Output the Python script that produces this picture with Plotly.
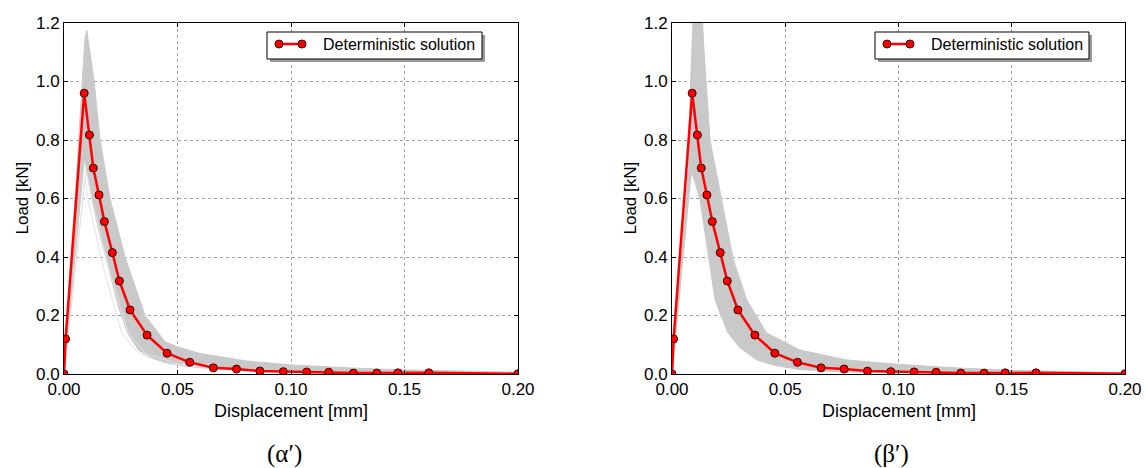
import plotly.graph_objects as go

W, H = 1145, 468

# ---------------- data ----------------
disp_det = [0.0, 0.0007, 0.0089, 0.0112, 0.0129, 0.0154, 0.0178, 0.0213, 0.0244, 0.0291,
            0.0366, 0.0454, 0.0554, 0.0658, 0.0760, 0.0863, 0.0966, 0.1069, 0.1166,
            0.1275, 0.1378, 0.1471, 0.1607, 0.2000]
load_det = [0.0, 0.12, 0.96, 0.817, 0.704, 0.612, 0.521, 0.415, 0.318, 0.219,
            0.133, 0.071, 0.040, 0.021, 0.017, 0.010, 0.008, 0.007, 0.006,
            0.003, 0.003, 0.004, 0.004, 0.001]

# envelope of the stochastic sample curves, case (α')
band_a_x = [0.0, 0.0063, 0.0078, 0.0092, 0.0100, 0.0110, 0.0133, 0.0159, 0.0203, 0.0269,
            0.0357, 0.0445, 0.050, 0.060, 0.080, 0.100, 0.125, 0.150, 0.175, 0.200,
            0.200, 0.175, 0.150, 0.125, 0.100, 0.080, 0.065, 0.050, 0.040, 0.033,
            0.028, 0.0240, 0.0195, 0.0150, 0.0122, 0.0100, 0.0090, 0.0]
band_a_y = [0.0, 0.80, 1.00, 1.14, 1.176, 1.12, 1.00, 0.80, 0.60, 0.40,
            0.20, 0.11, 0.093, 0.070, 0.045, 0.031, 0.021, 0.014, 0.009, 0.006,
            0.000, 0.002, 0.004, 0.006, 0.008, 0.012, 0.018, 0.030, 0.050, 0.080,
            0.140, 0.230, 0.367, 0.500, 0.600, 0.700, 0.740, 0.0]

# a few outlying (lighter) sample curves, case (α')
light1_x = [0.0, 0.0097, 0.0122, 0.0195, 0.0283, 0.036, 0.050, 0.070]
light1_y = [0.0, 0.700, 0.600, 0.367, 0.140, 0.070, 0.035, 0.020]
light2_x = [0.0, 0.0093, 0.0105, 0.0173, 0.0254, 0.033, 0.045, 0.065]
light2_y = [0.0, 0.675, 0.600, 0.367, 0.140, 0.070, 0.035, 0.020]

# envelope of the stochastic sample curves, case (β')
band_b_x = [0.0, 0.0040, 0.0072, 0.0080, 0.0087, 0.0092, 0.0135, 0.0141, 0.0168, 0.0219,
            0.0271, 0.0330, 0.0418, 0.0565, 0.077, 0.100, 0.125, 0.151, 0.175, 0.200,
            0.200, 0.150, 0.100, 0.075, 0.0565, 0.045, 0.0374, 0.0300, 0.0247, 0.0190,
            0.0168, 0.0124, 0.0100, 0.0085, 0.0]
band_b_y = [0.0, 0.40, 0.70, 0.95, 1.108, 1.20, 1.20, 1.108, 0.80, 0.595,
            0.39, 0.253, 0.14, 0.082, 0.048, 0.033, 0.021, 0.012, 0.008, 0.005,
            0.000, 0.002, 0.004, 0.007, 0.015, 0.030, 0.048, 0.090, 0.140, 0.253,
            0.367, 0.595, 0.66, 0.69, 0.0]

x_ticks = [0.0, 0.05, 0.10, 0.15, 0.20]
y_ticks = [0.0, 0.2, 0.4, 0.6, 0.8, 1.0, 1.2]
legend_label = "Deterministic solution"
x_title = "Displacement [mm]"
y_title = "Load [kN]"
captions = ["(α′)", "(β′)"]

# ---------------- layout helpers ----------------
def px(x):
    return x / W

def py(y):
    return 1 - y / H

axes_px = [(64, 518), (672, 1125)]
top_px, bot_px = 23, 374

GRAY = "#c9c9c9"
LIGHT = "#e3e3e3"
RED = "#ff0000"
FONT = "Liberation Sans"

fig = go.Figure()

def add_panel(k, bx, by, lights):
    xa = "x" if k == 0 else "x2"
    ya = "y" if k == 0 else "y2"
    fig.add_trace(go.Scatter(x=bx, y=by, mode="lines", fill="toself", fillcolor=GRAY,
                             line=dict(color=GRAY, width=1), xaxis=xa, yaxis=ya,
                             hoverinfo="skip", showlegend=False))
    for lx, ly in lights:
        fig.add_trace(go.Scatter(x=lx, y=ly, mode="lines", line=dict(color=LIGHT, width=1),
                                 xaxis=xa, yaxis=ya, hoverinfo="skip", showlegend=False))
    fig.add_trace(go.Scatter(x=disp_det, y=load_det, mode="lines+markers",
                             line=dict(color=RED, width=2.5),
                             marker=dict(color=RED, size=8, line=dict(color="#3a0000", width=1)),
                             xaxis=xa, yaxis=ya, showlegend=False, name=legend_label))

add_panel(0, band_a_x, band_a_y, [(light1_x, light1_y), (light2_x, light2_y)])
add_panel(1, band_b_x, band_b_y, [])

axis_common = dict(showline=True, linecolor="black", linewidth=1, mirror="ticks",
                   ticks="inside", ticklen=4, tickcolor="black", automargin=False,
                   showgrid=True, gridcolor="#a0a0a0", griddash="dot", gridwidth=1,
                   zeroline=False, tickfont=dict(family=FONT, size=17, color="black"))

layout = dict(width=W, height=H, margin=dict(l=0, r=0, t=0, b=0),
              paper_bgcolor="white", plot_bgcolor="white", showlegend=False)

for k, (x0, x1) in enumerate(axes_px):
    sfx = "" if k == 0 else "2"
    layout["xaxis" + sfx] = dict(axis_common, domain=[px(x0), px(x1)], range=[0, 0.2],
                                 tickvals=x_ticks, tickformat=".2f",
                                 anchor="y" + sfx)
    layout["yaxis" + sfx] = dict(axis_common, domain=[py(bot_px), py(top_px)], range=[0, 1.2],
                                 tickvals=y_ticks, tickformat=".1f",
                                 anchor="x" + sfx)

fig.update_layout(**layout)

shapes = []
annotations = []
for k, (x0, x1) in enumerate(axes_px):
    cx = (x0 + x1) / 2
    # axis titles
    annotations.append(dict(x=px(x0 - 42), y=py((top_px + bot_px) / 2), xref="paper", yref="paper",
                            text=y_title, textangle=-90, showarrow=False,
                            font=dict(family=FONT, size=17, color="black"),
                            xanchor="center", yanchor="middle"))
    annotations.append(dict(x=px(cx), y=py(411), xref="paper", yref="paper",
                            text=x_title, showarrow=False,
                            font=dict(family=FONT, size=18, color="black"),
                            xanchor="center", yanchor="middle"))
    annotations.append(dict(x=px(cx - 7), y=py(454), xref="paper", yref="paper",
                            text=captions[k], showarrow=False,
                            font=dict(family="Liberation Serif", size=25, color="black"),
                            xanchor="center", yanchor="middle"))
    # legend box
    lx0, lx1 = x0 + 203, x1 - 36
    ly0, ly1 = 32, 59
    shapes.append(dict(type="rect", xref="paper", yref="paper",
                       x0=px(lx0 + 3), x1=px(lx1 + 3), y0=py(ly1 + 3), y1=py(ly0 + 3),
                       fillcolor="#9a9a9a", line=dict(width=0), layer="above"))
    shapes.append(dict(type="rect", xref="paper", yref="paper",
                       x0=px(lx0), x1=px(lx1), y0=py(ly1), y1=py(ly0),
                       fillcolor="white", line=dict(color="black", width=1), layer="above"))
    mx0, mx1, my = lx0 + 12, lx0 + 35, 44
    shapes.append(dict(type="line", xref="paper", yref="paper",
                       x0=px(mx0), x1=px(mx1), y0=py(my), y1=py(my),
                       line=dict(color=RED, width=2.5), layer="above"))
    for mx in (mx0, mx1):
        shapes.append(dict(type="circle", xref="paper", yref="paper",
                           x0=px(mx - 4), x1=px(mx + 4), y0=py(my + 4), y1=py(my - 4),
                           fillcolor=RED, line=dict(color="#3a0000", width=1), layer="above"))
    annotations.append(dict(x=px(lx0 + 54), y=py(my), xref="paper", yref="paper",
                            text=legend_label, showarrow=False,
                            font=dict(family=FONT, size=16, color="black"),
                            xanchor="left", yanchor="middle"))

fig.update_layout(shapes=shapes, annotations=annotations)
fig.write_html("out.html")
